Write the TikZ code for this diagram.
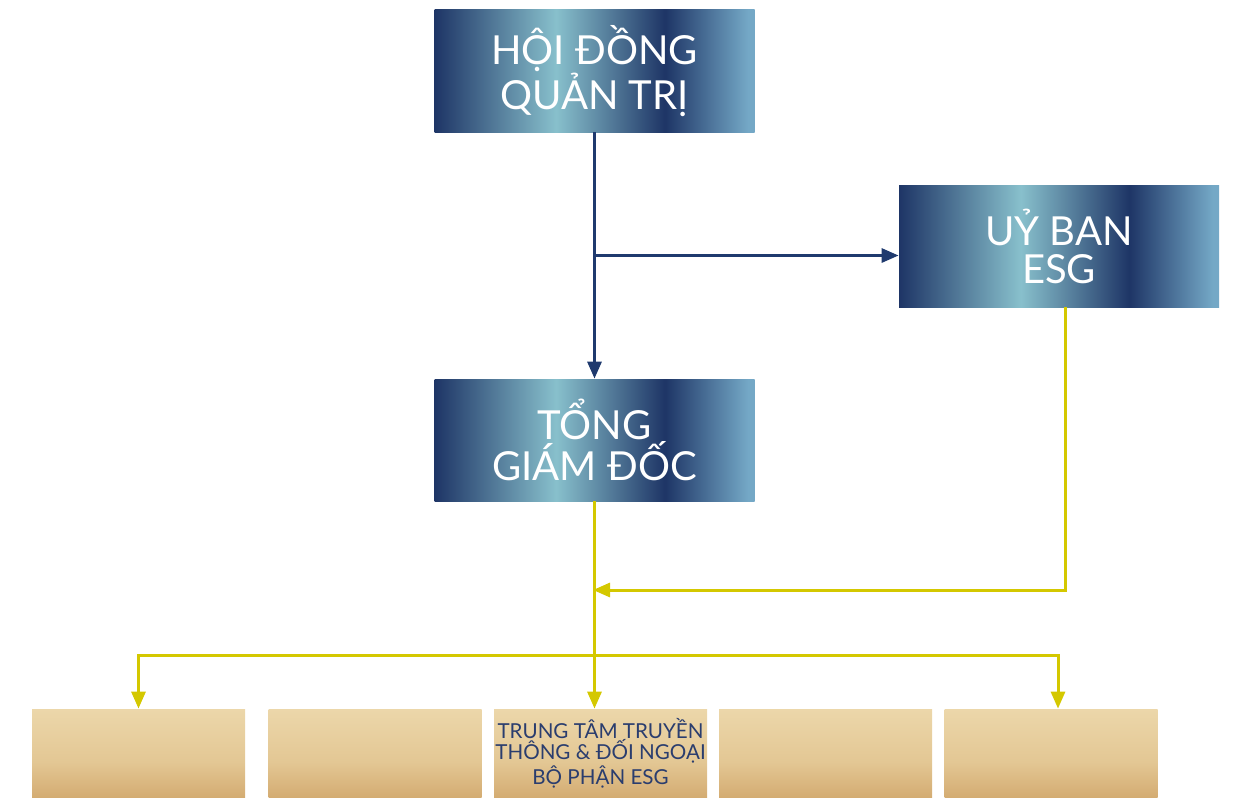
\documentclass[tikz,border=0pt]{standalone}
\usepackage{fontspec}
\setmainfont{Lato}
\usepackage{xcolor}
\usetikzlibrary{calc, arrows.meta}

\definecolor{navyD}{HTML}{1E3566}
\definecolor{tealL}{HTML}{88C0CC}
\definecolor{blueL}{HTML}{74A8C6}
\definecolor{navyLine}{HTML}{1F3A6E}
\definecolor{yelLine}{HTML}{D4C800}
\definecolor{tanL}{HTML}{ECD7AA}
\definecolor{tanM}{HTML}{E3C794}
\definecolor{tanD}{HTML}{D4AC72}
\definecolor{tanText}{HTML}{2A3D6E}

\pgfdeclarehorizontalshading{navyband}{100bp}{color(0bp)=(navyD); color(25bp)=(navyD); color(44bp)=(tealL); color(61bp)=(navyD); color(74bp)=(blueL); color(100bp)=(blueL)}
\pgfdeclareverticalshading{tanband}{100bp}{color(0bp)=(tanD); color(25bp)=(tanD); color(45bp)=(tanM); color(75bp)=(tanL); color(100bp)=(tanL)}

\tikzset{
	bluebox/.style={shade, shading=navyband, minimum width=160pt, minimum height=61pt, inner sep=0pt, align=center, text=white, font=\fontsize{20}{19}\selectfont},
	tanbox/.style={shade, shading=tanband, minimum width=106.5pt, minimum height=44pt, inner sep=0pt, align=center, text=tanText, font=\fontsize{10.3}{10.6}\selectfont},
	navyarrow/.style={draw=navyLine, line width=1.5pt, -{Triangle[length=8.5pt, width=7pt]}},
	yelarrow/.style={draw=yelLine, line width=1.5pt, -{Triangle[length=8.5pt, width=7pt]}},
}

\begin{document}
\begin{tikzpicture}[x=0.5pt, y=-0.5pt]
	\useasboundingbox (0,0) rectangle (1240,797);
	
	\node [bluebox] (hdqt) at (594.5,71) {HỘI ĐỒNG\\QUẢN TRỊ};
	\node [bluebox] (esg) at (1059,246) {UỶ BAN\\ESG};
	\node [bluebox] (tgd) at (594.5,440) {TỔNG\\GIÁM ĐỐC};
	
	\begin{scope}
		\node [tanbox] (b1) at (138.5,753) {};
		\node [tanbox] (b2) at (375,753) {};
		\node [tanbox] (b3) at (600.5,753) {TRUNG TÂM TRUYỀN\\THÔNG \& ĐỐI NGOẠI\\BỘ PHẬN ESG};
		\node [tanbox] (b4) at (825.5,753) {};
		\node [tanbox] (b5) at (1051,753) {};
	\end{scope}
	
	\coordinate (split) at ($ (hdqt.south) !0.5! (tgd.north) $);
	\coordinate (esgout) at ([xshift=3pt] esg.south);
	\coordinate (meet) at (595,590);
	\coordinate (fork) at (595,655);
	\coordinate (b5in) at ([xshift=3.5pt] b5.north);
	
	\begin{scope}
		\draw [navyarrow] (hdqt.south) -- (tgd.north);
		\draw [navyarrow] (split) -- (split -| esg.west);
	\end{scope}
	
	\begin{scope}
		\draw [yelarrow] (tgd.south) -- (tgd.south |- b3.north);
		\draw [yelarrow, shorten >=-1pt] (esgout) |- (meet);
		\draw [yelarrow] (fork) -| (b1.north);
		\draw [yelarrow] (fork) -| (b5in);
	\end{scope}
\end{tikzpicture}
\end{document}
